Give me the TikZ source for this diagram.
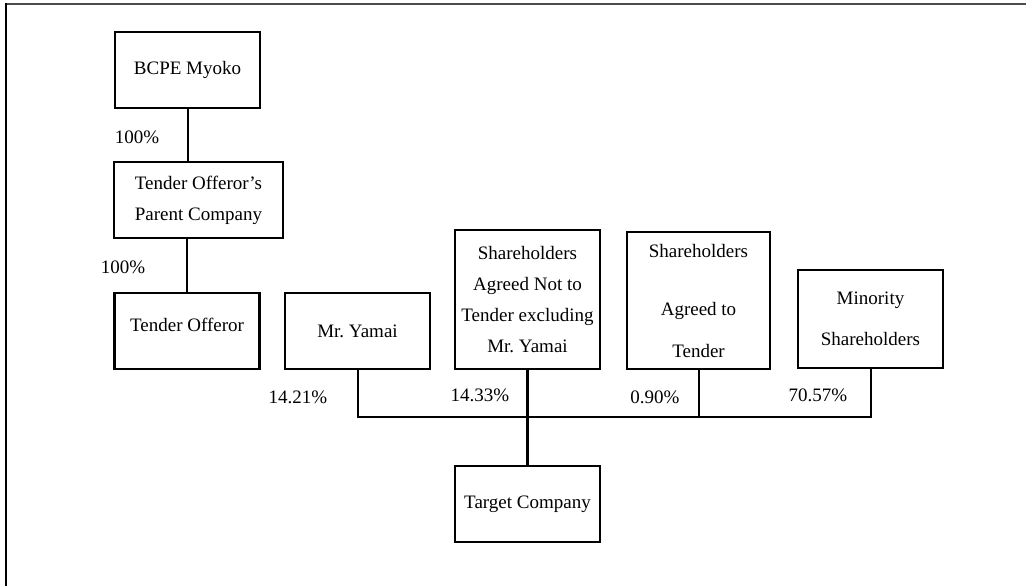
\documentclass[tikz,border=0pt]{standalone}
\usepackage{fontspec}
\setmainfont{Liberation Serif}
\usepackage{tikz}
\frenchspacing

\tikzset{
  entity/.style={draw, line width=2.5pt, align=center, inner sep=0pt,
    minimum width=145pt, minimum height=76pt, font=\fontsize{19}{31}\selectfont},
  link/.style={line width=2pt},
  pct/.style={font=\fontsize{19}{22}\selectfont, inner sep=0pt}
}

\begin{document}
\begin{tikzpicture}[x=1pt, y=-1pt]
\useasboundingbox (0,0) rectangle (1026,586);
\draw[line width=2.5pt, black!70] (6,4) -- (1026,4);
\draw[line width=2.5pt] (6,3) -- (6,586);

\node[entity] (myoko) at (187.5,70) {BCPE Myoko};
\node[entity, minimum width=169pt] (parent) at (198.5,200) {Tender Offeror's\\Parent Company};
\node[entity] (offeror) at (187,331) {\raisebox{12pt}{Tender Offeror}};
\node[entity] (yamai) at (357.5,331) {Mr. Yamai};
\node[entity, minimum height=139pt] (notto) at (527.5,299.5)
  {Shareholders\\Agreed Not to\\Tender excluding\\Mr. Yamai};
\node[entity, minimum width=143pt, minimum height=137pt] (agreed) at (698.5,300.5)
  {\raisebox{14pt}{Shareholders}\\[13pt]Agreed to\\[11pt]Tender};
\node[entity, minimum height=98pt] (minority) at (870.5,319)
  {Minority\\[10pt]Shareholders};
\node[entity] (target) at (527.5,504) {Target Company};

\coordinate (bus) at (527.5,417);

\draw[link] (myoko.south) -- (myoko.south |- parent.north);
\draw[link] (offeror.north |- parent.south) -- (offeror.north);

\draw[link] (yamai.south) -- (yamai.south |- bus) -- (minority.south |- bus) -- (minority.south);
\draw[link] (agreed.south) -- (agreed.south |- bus);
\draw[line width=3pt] (notto.south) -- (target.north);

\node[pct] (p1) at (137,137) {100\%};
\node[pct] (p2) at (123,267) {100\%};
\node[pct] (p3) at (298,397) {14.21\%};
\node[pct] (p4) at (480,395) {14.33\%};
\node[pct] (p5) at (655,397) {0.90\%};
\node[pct] (p6) at (818,395) {70.57\%};
\end{tikzpicture}
\end{document}
